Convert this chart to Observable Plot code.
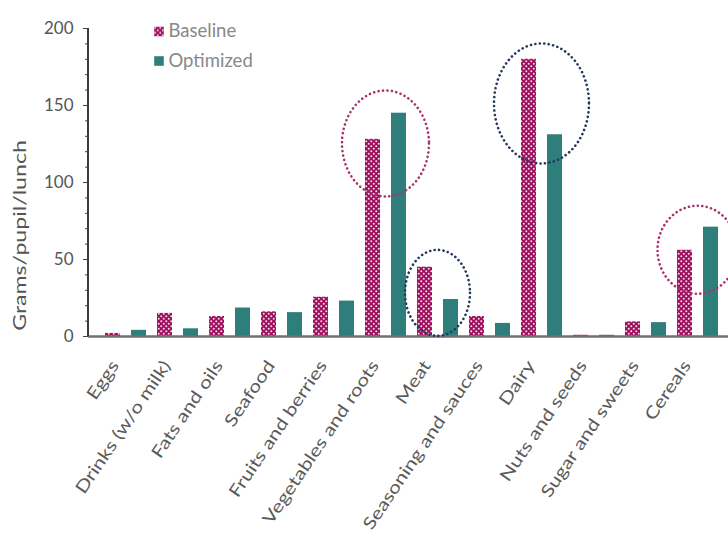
<!DOCTYPE html>
<html><head><meta charset="utf-8">
<script src="https://cdn.jsdelivr.net/npm/d3@7"></script>
<script src="https://cdn.jsdelivr.net/npm/@observablehq/plot@0.6"></script>
<style>body{margin:0;background:#fff;} #chart svg{display:block;}</style>
</head><body><div id="chart"></div>
<script>
const categories = ["Eggs","Drinks (w/o milk)","Fats and oils","Seafood","Fruits and berries","Vegetables and roots","Meat","Seasoning and sauces","Dairy","Nuts and seeds","Sugar and sweets","Cereals"];
const baseline  = [2, 15, 13, 16, 25.5, 128, 45, 13, 180, 0.8, 9.5, 56];
const optimized = [4, 5, 18.5, 15.5, 23, 145, 24, 8.5, 131, 0.8, 9, 71];
const seriesNames = ["Baseline","Optimized"];
const yTicks = [0, 50, 100, 150, 200];
const yMinorTicks = d3.range(0, 201, 10);
const yLabel = "Grams/pupil/lunch";
const highlightCategories = ["Vegetables and roots","Meat","Dairy","Cereals"];
const highlightValues = [125, 28, 151, 56];

const MAGENTA = "#9E0F5E", TEAL = "#2E7E7B";

const data = categories.flatMap((c, i) => [
  {category: c, series: seriesNames[0], key: c + "|" + seriesNames[0], value: baseline[i]},
  {category: c, series: seriesNames[1], key: c + "|" + seriesNames[1], value: optimized[i]}
]);
const keys = data.map(d => d.key);
const baselineKeys = categories.map(c => c + "|" + seriesNames[0]);

const defs = () => {
  const s = d3.create("svg:defs");
  const p = s.append("pattern").attr("id", "dots").attr("patternUnits", "userSpaceOnUse")
    .attr("width", 5).attr("height", 5);
  p.append("rect").attr("width", 5).attr("height", 5).attr("fill", MAGENTA);
  p.append("circle").attr("cx", 1.25).attr("cy", 1.25).attr("r", 1).attr("fill", "#f6d9e8");
  p.append("circle").attr("cx", 3.75).attr("cy", 3.75).attr("r", 1).attr("fill", "#f6d9e8");
  return s.node();
};

const chart = Plot.plot({
  width: 728, height: 540,
  marginLeft: 88, marginRight: 0, marginTop: 28, marginBottom: 204,
  style: {fontFamily: "Lato, sans-serif", background: "#fff", overflow: "visible"},
  x: {type: "band", domain: keys, range: [90.65, 731.45], paddingInner: 0.44, paddingOuter: 0.22, axis: null},
  y: {domain: [0, 200], axis: null},
  marks: [
    defs,
    Plot.barY(data.filter(d => d.series === seriesNames[0]), {x: "key", y: "value", fill: "url(#dots)"}),
    Plot.barY(data.filter(d => d.series === seriesNames[1]), {x: "key", y: "value", fill: TEAL}),
    Plot.ruleY([0], {stroke: "#707070", strokeWidth: 2.5}),
    Plot.axisY(yMinorTicks, {tickSize: 3, tickFormat: () => "", stroke: "#444", label: null}),
    Plot.axisY(yTicks, {tickSize: 5, tickPadding: 10, fontSize: 17, fill: "#555", stroke: "#444", label: null}),
    Plot.axisX(baselineKeys, {tickSize: 0, tickRotate: -56, tickPadding: 26, dx: 2,
      tickFormat: k => k.split("|")[0], fontSize: 17, fill: "#5a5a5a", label: null}),
    Plot.text([yLabel], {frameAnchor: "left", rotate: -90, dx: -68, dy: 53, textAnchor: "middle",
      fontSize: 17, fill: "#555"}),
    Plot.dot([seriesNames[0]], {frameAnchor: "top-left", dx: 70.5, dy: 3, symbol: "square", r: 5.4, fill: "url(#dots)"}),
    Plot.dot([seriesNames[1]], {frameAnchor: "top-left", dx: 70.5, dy: 32.5, symbol: "square", r: 5.4, fill: TEAL}),
    Plot.text([seriesNames[0]], {frameAnchor: "top-left", dx: 80, dy: 3, textAnchor: "start", lineAnchor: "middle", fontSize: 18.5, fill: "#888"}),
    Plot.text([seriesNames[1]], {frameAnchor: "top-left", dx: 80, dy: 32.5, textAnchor: "start", lineAnchor: "middle", fontSize: 18.5, fill: "#888"})
  ]
});
document.getElementById("chart").append(chart);

const svg = d3.select(chart);
// the reference's rotated labels are drawn stretched along their length
svg.selectAll("text").each(function() {
  const s = this.textContent;
  if (categories.includes(s)) {
    const t = this.getAttribute("transform") || "";
    this.setAttribute("transform", t + " scale(1.24,1)");
  } else if (s === yLabel) {
    const t = this.getAttribute("transform") || "";
    this.setAttribute("text-anchor", "middle");
    this.setAttribute("transform", t + " scale(1.36,1)");
  }
});

// y axis line and dotted highlight ellipses, positioned through Plot's scales
const xs = chart.scale("x"), ys = chart.scale("y");
svg.append("line")
  .attr("x1", 88).attr("x2", 88)
  .attr("y1", ys.apply(0)).attr("y2", ys.apply(200))
  .attr("stroke", "#3a3a3a").attr("stroke-width", 2);

const ellipseSize = {
  "Vegetables and roots": [43.5, 53],
  "Meat": [32.5, 43],
  "Dairy": [47.5, 60],
  "Cereals": [40, 44]
};
highlightCategories.forEach((c, i) => {
  const idx = categories.indexOf(c);
  const x0 = xs.apply(c + "|" + seriesNames[0]);
  const x1 = xs.apply(c + "|" + seriesNames[1]);
  const cx = (x0 + x1 + xs.bandwidth) / 2;
  const cy = ys.apply(highlightValues[i]);
  const up = optimized[idx] > baseline[idx];
  const [rx, ry] = ellipseSize[c];
  svg.append("ellipse")
    .attr("cx", cx).attr("cy", cy).attr("rx", rx).attr("ry", ry)
    .attr("fill", "none")
    .attr("stroke", up ? "#a8336f" : "#26385f")
    .attr("stroke-width", 2.6)
    .attr("stroke-linecap", "round")
    .attr("stroke-dasharray", "0.1 4.4");
});
</script>
</body></html>
